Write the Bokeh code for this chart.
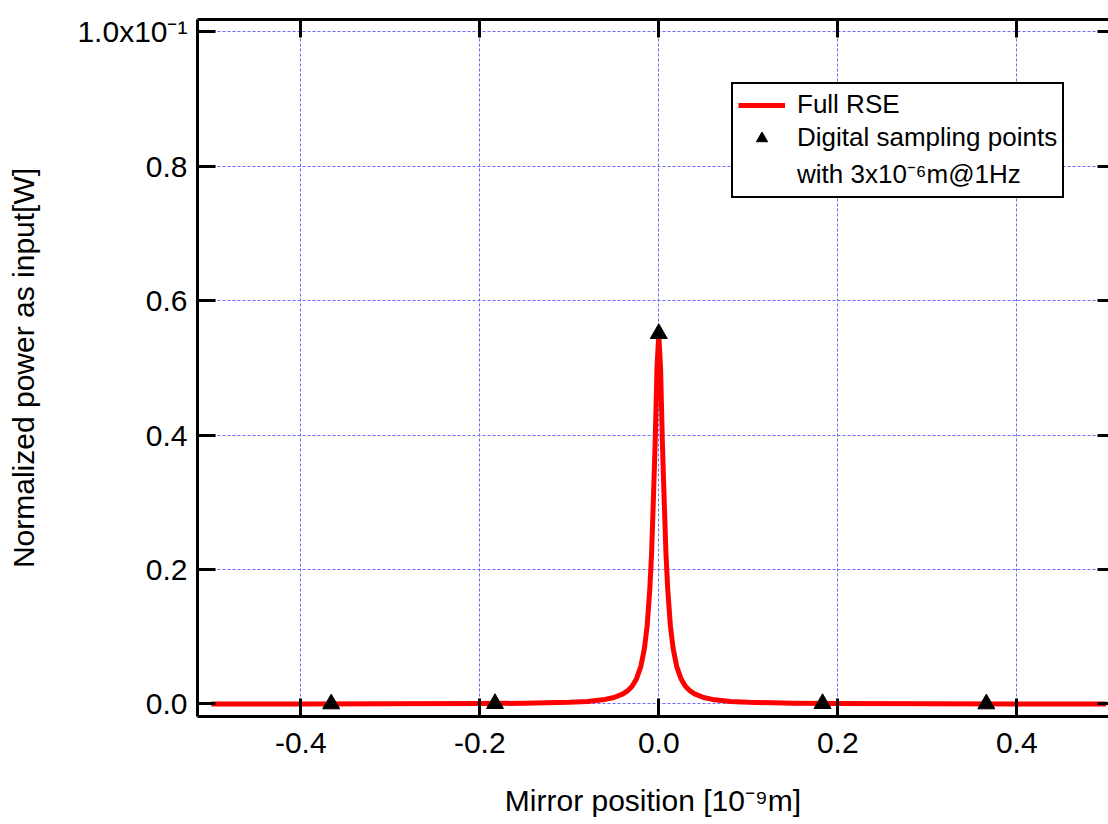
from bokeh.plotting import figure
from bokeh.models import Range1d, FixedTicker, LinearAxis, Legend, LegendItem
from bokeh.embed import file_html
from bokeh.resources import INLINE

# ---- data ----
curve_x = [-0.50, -0.40, -0.30, -0.20, -0.15, -0.10, -0.08, -0.06, -0.05, -0.04,
           -0.035, -0.03, -0.025, -0.02, -0.016, -0.013, -0.010, -0.008, -0.006,
           -0.004, -0.002, 0.0, 0.002, 0.004, 0.006, 0.008, 0.010, 0.013, 0.016,
           0.02, 0.025, 0.03, 0.035, 0.04, 0.05, 0.06, 0.08, 0.10, 0.15, 0.20,
           0.30, 0.40, 0.50]
curve_y = [0.0001, 0.00015, 0.0003, 0.0006, 0.0011, 0.0025, 0.0038, 0.0068, 0.0097, 0.015,
           0.0194, 0.026, 0.037, 0.056, 0.083, 0.116, 0.171, 0.225, 0.305,
           0.39, 0.50, 0.55, 0.50, 0.39, 0.305, 0.225, 0.171, 0.116, 0.083,
           0.056, 0.037, 0.026, 0.0194, 0.015, 0.0097, 0.0068, 0.0038, 0.0025, 0.0011, 0.0006,
           0.0003, 0.00015, 0.0001]

sample_x = [-0.366, -0.183, 0.0, 0.183, 0.366]
sample_y = [0.0001, 0.0006, 0.551, 0.0006, 0.0001]

x_ticks = [-0.4, -0.2, 0.0, 0.2, 0.4]
x_tick_labels = ["-0.4", "-0.2", "0.0", "0.2", "0.4"]
y_ticks = [0.0, 0.2, 0.4, 0.6, 0.8, 1.0]
y_tick_labels = ["0.0", "0.2", "0.4", "0.6", "0.8", "1.0x10\u207b\u00b9"]

x_label = "Mirror position [10\u207b\u2079m]"
y_label = "Normalized power as input[W]"
legend_labels = ["Full RSE", "Digital sampling points", "with 3x10\u207b\u2076m@1Hz"]

FONT = "Liberation Sans"

p = figure(width=1108, height=824,
           x_range=Range1d(-0.5154, 0.5025), y_range=Range1d(-0.0186, 1.0183),
           output_backend="svg", toolbar_location=None,
           min_border_left=197, min_border_right=0, min_border_top=19, min_border_bottom=108,
           outline_line_color=None, background_fill_color="white")

x_ticker = FixedTicker(ticks=x_ticks)
y_ticker = FixedTicker(ticks=y_ticks)

def style_axis(ax, ticker, labels, tick_in, show_labels=True, line=True):
    ax.ticker = ticker
    ax.major_tick_in = tick_in
    ax.major_tick_out = 0
    ax.minor_tick_in = 0
    ax.minor_tick_out = 0
    ax.major_tick_line_width = 3
    ax.major_tick_line_color = "black"
    if line:
        ax.axis_line_width = 3
        ax.axis_line_color = "black"
    else:
        ax.axis_line_color = None
    if show_labels:
        ax.major_label_overrides = {t: l for t, l in zip(ticker.ticks, labels)}
        ax.major_label_text_font = FONT
        ax.major_label_text_font_size = "30px"
        ax.major_label_text_color = "black"
        ax.axis_label_text_font = FONT
        ax.axis_label_text_font_size = "30px"
        ax.axis_label_text_font_style = "normal"
        ax.axis_label_text_color = "black"
    else:
        ax.major_label_overrides = {t: "" for t in ticker.ticks}
        ax.major_label_text_font_size = "0px"
        ax.major_label_standoff = 0

bx = p.xaxis[0]
style_axis(bx, x_ticker, x_tick_labels, 18)
bx.major_label_standoff = 16
bx.axis_label = x_label
bx.axis_label_standoff = 28

ly = p.yaxis[0]
style_axis(ly, y_ticker, y_tick_labels, 18)
ly.major_label_standoff = 10
ly.axis_label = y_label
ly.axis_label_standoff = 34

top_ax = LinearAxis()
style_axis(top_ax, FixedTicker(ticks=x_ticks), None, 18, show_labels=False)
p.add_layout(top_ax, "above")
right_ax = LinearAxis()
style_axis(right_ax, FixedTicker(ticks=y_ticks), None, 11, show_labels=False, line=False)
p.add_layout(right_ax, "right")

for g, t in ((p.xgrid[0], x_ticker), (p.ygrid[0], y_ticker)):
    g.ticker = t
    g.grid_line_color = "#6a6aff"
    g.grid_line_width = 1
    g.grid_line_dash = "3 2"

r_line = p.line(x=curve_x, y=curve_y, line_color="#ff0000", line_width=5, line_join="round")
r_pts = p.scatter(x=sample_x, y=sample_y, marker="triangle", size=17, color="black")
r_blank = p.scatter(x=[], y=[], marker="triangle", size=0, fill_alpha=0, line_alpha=0)

legend = Legend(items=[LegendItem(label=legend_labels[0], renderers=[r_line]),
                       LegendItem(label=legend_labels[1], renderers=[r_pts]),
                       LegendItem(label=legend_labels[2], renderers=[r_blank])],
                location=(534, 518), orientation="vertical",
                border_line_color="black", border_line_width=2, border_line_alpha=1,
                background_fill_color="white", background_fill_alpha=1,
                label_text_font=FONT, label_text_font_size="26px", label_text_color="black",
                glyph_width=47, glyph_height=28, label_height=28,
                padding=5, spacing=2, label_standoff=12, margin=0)
p.add_layout(legend)

open("out.html", "w").write(file_html(p, INLINE))
